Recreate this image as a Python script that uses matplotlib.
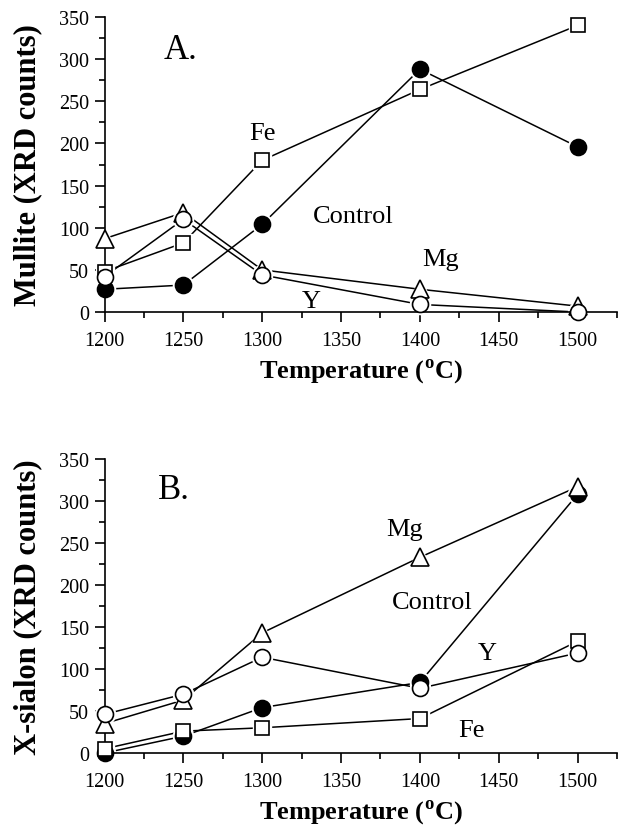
import matplotlib
matplotlib.use('Agg')
import matplotlib.pyplot as plt
from matplotlib.ticker import MultipleLocator

plt.rcParams['font.family'] = ['Liberation Serif', 'DejaVu Serif']
plt.rcParams['mathtext.fontset'] = 'custom'
plt.rcParams['mathtext.rm'] = 'Liberation Serif'
plt.rcParams['mathtext.bf'] = 'Liberation Serif:bold'

temps = [1200, 1250, 1300, 1400, 1500]

# A. mullite
mul_control = [27, 32, 104, 288, 196]
mul_fe = [48, 82, 180, 264, 340]
mul_mg = [87, 118, 50, 27, 7]
mul_y = [42, 110, 44, 9, 0]

# B. X-sialon
sia_control = [0, 20, 54, 84, 308]
sia_fe = [5, 26, 30, 41, 133]
sia_mg = [35, 63, 143, 233, 317]
sia_y = [46, 70, 114, 77, 119]

# marker style per series: (marker, size, facecolor)
sty = {'Control': ('o', 11.5, 'black'),
       'Fe': ('s', 10.5, 'white'),
       'Mg': ('^', 12.5, 'white'),
       'Y': ('o', 11.5, 'white')}


def draw(ax, series, labels, panel, ylabel):
    for name, vals in series:
        ax.plot(temps, vals, '-', c='black', lw=1.1, zorder=1)
    for name, vals in series:
        m, ms, fc = sty[name]
        # white halo gives the little gap between line and marker
        ax.plot(temps, vals, ls='none', marker=m, ms=ms + 3, mfc='white',
                mec='white', zorder=2, clip_on=False)
    for name, vals in series:
        m, ms, fc = sty[name]
        ax.plot(temps, vals, ls='none', marker=m, ms=ms, mfc=fc, mec='black',
                mew=1.2, zorder=3, clip_on=False)
    for txt, x, y in labels:
        ax.text(x, y, txt, fontsize=19, ha='center', va='center')
    ax.text(panel[1], panel[2], panel[0], fontsize=25, ha='center', va='center')

    ax.set_xlim(1200, 1525)
    ax.set_ylim(0, 350)
    ax.xaxis.set_major_locator(MultipleLocator(50))
    ax.xaxis.set_minor_locator(MultipleLocator(25))
    ax.yaxis.set_major_locator(MultipleLocator(50))
    ax.yaxis.set_minor_locator(MultipleLocator(25))
    ax.spines['top'].set_visible(False)
    ax.spines['right'].set_visible(False)
    ax.spines['left'].set_linewidth(1.2)
    ax.spines['bottom'].set_linewidth(1.2)
    ax.tick_params(which='major', direction='out', length=7, width=1.2,
                   labelsize=14.5)
    ax.tick_params(axis='x', which='major', pad=7)
    ax.tick_params(axis='y', which='major', pad=4)
    ax.tick_params(which='minor', direction='out', length=4.3, width=1.2)
    ax.set_xlabel(r'Temperature ($^{\mathbf{o}}$C)', fontsize=19,
                  fontweight='bold', labelpad=4)
    ax.set_ylabel(ylabel, fontsize=22, fontweight='bold', labelpad=12)


fig = plt.figure(figsize=(6.21, 8.29), dpi=100)
ax1 = fig.add_axes([0.1683, 0.6224, 0.8253, 0.3559])
ax2 = fig.add_axes([0.1683, 0.0905, 0.8253, 0.3546])

draw(ax1,
     [('Control', mul_control), ('Fe', mul_fe), ('Mg', mul_mg), ('Y', mul_y)],
     [('Fe', 1300, 212), ('Control', 1358, 114), ('Mg', 1413, 63), ('Y', 1331, 13)],
     ('A.', 1248, 311), 'Mullite (XRD counts)')

draw(ax2,
     [('Control', sia_control), ('Fe', sia_fe), ('Mg', sia_mg), ('Y', sia_y)],
     [('Mg', 1390, 267), ('Control', 1408, 180), ('Y', 1443, 119), ('Fe', 1433, 27)],
     ('B.', 1244, 314), 'X-sialon (XRD counts)')

fig.savefig('out.png', dpi=100)
